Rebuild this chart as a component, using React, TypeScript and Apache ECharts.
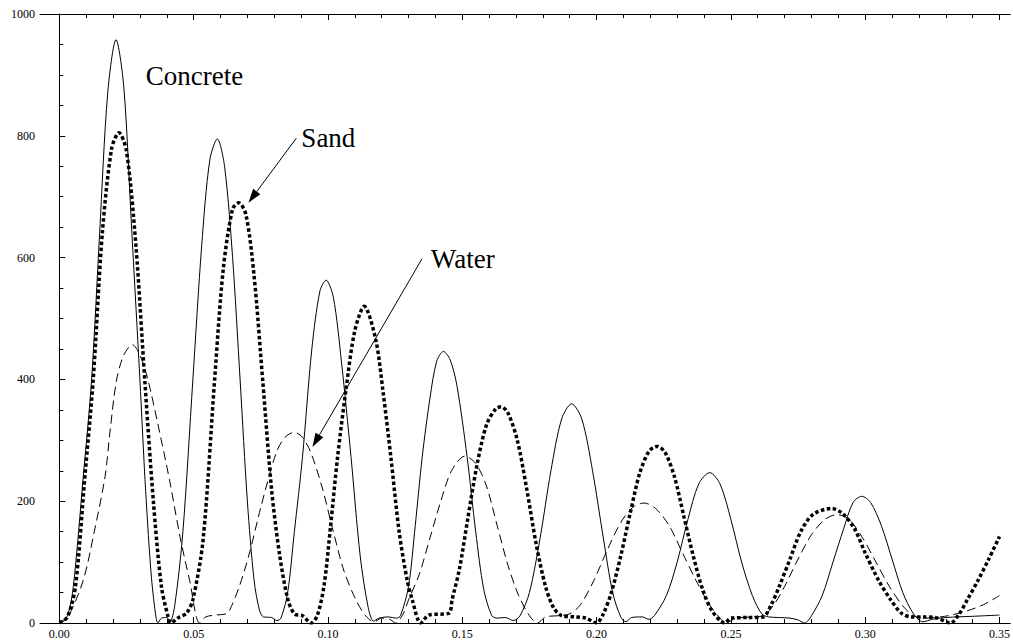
import React, { useEffect, useRef } from "react";
import * as echarts from "echarts";

const X_MIN = -0.0072;
const X_MAX = 0.354;
const xMajorTicks = [0, 0.05, 0.1, 0.15, 0.2, 0.25, 0.3, 0.35];
const xMinorTicks = [
  0.01, 0.02, 0.03, 0.04, 0.06, 0.07, 0.08, 0.09, 0.11, 0.12, 0.13, 0.14,
  0.16, 0.17, 0.18, 0.19, 0.21, 0.22, 0.23, 0.24, 0.26, 0.27, 0.28, 0.29,
  0.31, 0.32, 0.33, 0.34,
];

const concrete: [number, number][] = [
  [0, 0], [0.003, 12], [0.0052, 60], [0.0089, 240], [0.012, 399], [0.015, 640],
  [0.018, 870], [0.0211, 958], [0.024, 880], [0.027, 640], [0.03, 399],
  [0.0319, 235], [0.034, 90], [0.0355, 25], [0.0367, 0], [0.038, 8], [0.04, 9],
  [0.0412, 2], [0.043, 30], [0.046, 150], [0.0497, 399], [0.053, 620],
  [0.056, 760], [0.0588, 795], [0.0615, 750], [0.0645, 600], [0.0673, 399],
  [0.07, 200], [0.0725, 70], [0.0745, 21], [0.076, 10], [0.079, 9], [0.081, 4],
  [0.0825, 8], [0.085, 50], [0.0875, 150], [0.0905, 272], [0.094, 450],
  [0.097, 545], [0.0993, 563], [0.102, 535], [0.105, 430], [0.1086, 272],
  [0.112, 110], [0.115, 25], [0.117, 3], [0.119, 8], [0.1225, 10], [0.1255, 8],
  [0.127, 12], [0.13, 60], [0.1325, 160], [0.1351, 273], [0.138, 370],
  [0.1405, 430], [0.143, 446], [0.1455, 432], [0.148, 390], [0.1518, 273],
  [0.155, 150], [0.158, 55], [0.161, 12], [0.163, 8], [0.166, 9], [0.169, 4],
  [0.1715, 12], [0.175, 50], [0.179, 140], [0.183, 250], [0.187, 335],
  [0.1907, 360], [0.1945, 335], [0.1985, 250], [0.2025, 140], [0.206, 50],
  [0.209, 10], [0.211, 2], [0.213, 9], [0.217, 10], [0.2195, 6], [0.2215, 12],
  [0.226, 45], [0.23, 100], [0.234, 170], [0.238, 228], [0.2421, 247],
  [0.246, 228], [0.25, 170], [0.254, 100], [0.258, 45], [0.2615, 15],
  [0.264, 10], [0.268, 9], [0.272, 8], [0.275, 5], [0.2775, 0], [0.28, 12],
  [0.284, 45], [0.288, 100], [0.292, 155], [0.2955, 198], [0.2987, 208],
  [0.302, 198], [0.306, 160], [0.31, 105], [0.314, 50], [0.318, 15],
  [0.3215, 2], [0.325, 6], [0.33, 9], [0.34, 11], [0.35, 13],
];

const sand: [number, number][] = [
  [0, 0], [0.003, 10], [0.006, 60], [0.0095, 240], [0.0126, 399], [0.016, 640],
  [0.0195, 780], [0.0222, 805], [0.025, 775], [0.0285, 620], [0.0318, 399],
  [0.035, 200], [0.038, 60], [0.0405, 10], [0.0415, 0], [0.044, 8],
  [0.0473, 16], [0.0497, 38], [0.0535, 136], [0.0578, 399], [0.061, 580],
  [0.0645, 680], [0.0668, 690], [0.0695, 670], [0.0725, 570], [0.0757, 399],
  [0.079, 220], [0.0819, 115], [0.085, 40], [0.0875, 15], [0.0905, 12],
  [0.0937, 0], [0.096, 12], [0.0985, 60], [0.101, 160], [0.1036, 273],
  [0.1067, 383], [0.11, 480], [0.1135, 520], [0.1178, 465], [0.1205, 380],
  [0.1234, 273], [0.1265, 150], [0.1295, 70], [0.1314, 38], [0.1345, 0],
  [0.1376, 13], [0.145, 16], [0.1462, 38], [0.149, 90], [0.152, 170],
  [0.1555, 260], [0.159, 325], [0.1625, 352], [0.1645, 355], [0.167, 345],
  [0.1705, 300], [0.174, 220], [0.1775, 130], [0.181, 60], [0.184, 25],
  [0.187, 12], [0.192, 10], [0.196, 8], [0.2, 0], [0.2025, 15], [0.2055, 50],
  [0.209, 110], [0.2125, 180], [0.216, 245], [0.2195, 282], [0.2225, 290],
  [0.2255, 280], [0.229, 240], [0.2325, 175], [0.236, 110], [0.2395, 55],
  [0.243, 20], [0.2477, 0], [0.25, 8], [0.256, 9], [0.262, 10], [0.265, 30],
  [0.268, 60], [0.272, 105], [0.276, 150], [0.2805, 178], [0.2875, 188],
  [0.2915, 180], [0.296, 155], [0.3, 115], [0.305, 70], [0.3095, 38],
  [0.3135, 16], [0.3172, 10], [0.321, 10], [0.326, 9], [0.3317, 0],
  [0.335, 15], [0.338, 38], [0.342, 70], [0.346, 105], [0.35, 142],
];

const water: [number, number][] = [
  [0, 0], [0.003, 8], [0.0089, 70], [0.013, 150], [0.017, 240], [0.019, 320],
  [0.0213, 399], [0.024, 440], [0.0272, 457], [0.03, 440], [0.033, 399],
  [0.037, 320], [0.041, 235], [0.045, 140], [0.0485, 70], [0.0522, 0],
  [0.0545, 10], [0.058, 13], [0.062, 15], [0.0634, 21], [0.067, 60],
  [0.0708, 115], [0.075, 190], [0.0807, 279], [0.084, 305], [0.0875, 313],
  [0.0905, 305], [0.0937, 279], [0.098, 220], [0.102, 150], [0.106, 85],
  [0.1104, 38], [0.114, 12], [0.1172, 2], [0.12, 8], [0.123, 6], [0.1252, 0],
  [0.128, 15], [0.13, 38], [0.134, 80], [0.138, 140], [0.142, 200],
  [0.146, 250], [0.151, 274], [0.155, 262], [0.159, 225], [0.163, 160],
  [0.167, 95], [0.171, 45], [0.175, 12], [0.178, 0], [0.181, 10], [0.186, 12],
  [0.19, 15], [0.194, 30], [0.199, 70], [0.204, 120], [0.209, 165],
  [0.2135, 190], [0.2177, 197], [0.222, 188], [0.227, 160], [0.232, 115],
  [0.237, 70], [0.242, 30], [0.246, 8], [0.248, 0], [0.252, 8], [0.258, 10],
  [0.262, 12], [0.266, 30], [0.27, 60], [0.275, 105], [0.28, 145],
  [0.285, 170], [0.2895, 178], [0.294, 170], [0.299, 140], [0.304, 100],
  [0.309, 60], [0.314, 28], [0.318, 12], [0.322, 8], [0.328, 10], [0.332, 13],
  [0.338, 20], [0.344, 30], [0.35, 45],
];

const annotationTexts = [
  { text: "Concrete", x: 0.0322, y: 898 },
  { text: "Sand", x: 0.0901, y: 796 },
  { text: "Water", x: 0.1383, y: 598 },
];

const annotationArrows = [
  { from: [0.0882, 796], to: [0.0704, 690] },
  { from: [0.135, 598], to: [0.0942, 289] },
];

const FONT = "Liberation Serif";

export default function App() {
  const ref = useRef<HTMLDivElement>(null);

  useEffect(() => {
    if (!ref.current) return;
    const chart = echarts.init(ref.current, null, { renderer: "svg" });
    const axisLineStyle = { color: "#000", width: 1 };
    const baseX = {
      type: "value",
      min: X_MIN,
      max: X_MAX,
      splitLine: { show: false },
    };
    chart.setOption({
      animation: false,
      backgroundColor: "#fff",
      textStyle: { fontFamily: FONT },
      grid: { left: 40, right: 0, top: 14, bottom: 18, containLabel: false },
      xAxis: [
        {
          ...baseX,
          position: "bottom",
          axisLine: { show: true, lineStyle: axisLineStyle },
          axisTick: { show: true, inside: true, length: 6, customValues: xMajorTicks, lineStyle: axisLineStyle },
          axisLabel: {
            show: true,
            customValues: xMajorTicks,
            formatter: (v: number) => v.toFixed(2),
            margin: 5,
            color: "#000",
            fontFamily: FONT,
            fontSize: 12,
          },
        },
        {
          ...baseX,
          position: "bottom",
          axisLine: { show: false },
          axisTick: { show: true, inside: true, length: 4, customValues: xMinorTicks, lineStyle: axisLineStyle },
          axisLabel: { show: false },
        },
        {
          ...baseX,
          position: "top",
          axisLine: { show: true, lineStyle: axisLineStyle },
          axisTick: { show: true, inside: true, length: 6, customValues: xMajorTicks, lineStyle: axisLineStyle },
          axisLabel: { show: false },
        },
        {
          ...baseX,
          position: "top",
          axisLine: { show: false },
          axisTick: { show: true, inside: true, length: 4, customValues: xMinorTicks, lineStyle: axisLineStyle },
          axisLabel: { show: false },
        },
      ],
      yAxis: [
        {
          type: "value",
          min: 0,
          max: 1000,
          interval: 200,
          position: "left",
          splitLine: { show: false },
          axisLine: { show: true, lineStyle: axisLineStyle },
          axisTick: { show: true, inside: true, length: 6, lineStyle: axisLineStyle },
          axisLabel: {
            margin: 5,
            color: "#000",
            fontFamily: FONT,
            fontSize: 12,
            formatter: (v: number) => String(v),
          },
        },
        {
          type: "value",
          min: 0,
          max: 1000,
          interval: 50,
          position: "left",
          splitLine: { show: false },
          axisLine: { show: false },
          axisTick: { show: true, inside: true, length: 4, lineStyle: axisLineStyle },
          axisLabel: { show: false },
        },
      ],
      series: [
        {
          name: "Concrete",
          type: "line",
          data: concrete,
          showSymbol: false,
          symbol: "none",
          smooth: 0.3,
          lineStyle: { color: "#000", width: 1, type: "solid" },
        },
        {
          name: "Sand",
          type: "line",
          data: sand,
          showSymbol: false,
          symbol: "none",
          smooth: 0.3,
          lineStyle: { color: "#000", width: 3.5, type: [3.5, 2.5], cap: "butt" },
        },
        {
          name: "Water",
          type: "line",
          data: water,
          showSymbol: false,
          symbol: "none",
          smooth: 0.3,
          lineStyle: { color: "#000", width: 1, type: [9, 5] },
        },
      ],
    });

    const toPx = (p: number[]) =>
      chart.convertToPixel({ xAxisIndex: 0, yAxisIndex: 0 }, p) as number[];

    const graphics: any[] = [];
    annotationTexts.forEach((t) => {
      const [px, py] = toPx([t.x, t.y]);
      graphics.push({
        type: "text",
        x: px,
        y: py,
        style: {
          text: t.text,
          fill: "#000",
          fontFamily: FONT,
          fontSize: 27,
          align: "left",
          verticalAlign: "middle",
        },
      });
    });
    annotationArrows.forEach((a) => {
      const [x1, y1] = toPx(a.from);
      const [x2, y2] = toPx(a.to);
      const dx = x2 - x1;
      const dy = y2 - y1;
      const len = Math.sqrt(dx * dx + dy * dy);
      const ux = dx / len;
      const uy = dy / len;
      const headLen = 14;
      const headHalf = 4.5;
      const bx = x2 - ux * headLen;
      const by = y2 - uy * headLen;
      graphics.push({
        type: "line",
        shape: { x1, y1, x2: bx, y2: by },
        style: { stroke: "#000", lineWidth: 1 },
      });
      graphics.push({
        type: "polygon",
        shape: {
          points: [
            [x2, y2],
            [bx - uy * headHalf, by + ux * headHalf],
            [bx + uy * headHalf, by - ux * headHalf],
          ],
        },
        style: { fill: "#000" },
      });
    });
    chart.setOption({ graphic: graphics });

    return () => chart.dispose();
  }, []);

  return (
    <div
      ref={ref}
      style={{ position: "fixed", left: 0, top: 0, width: 1013, height: 641, background: "#fff" }}
    />
  );
}
